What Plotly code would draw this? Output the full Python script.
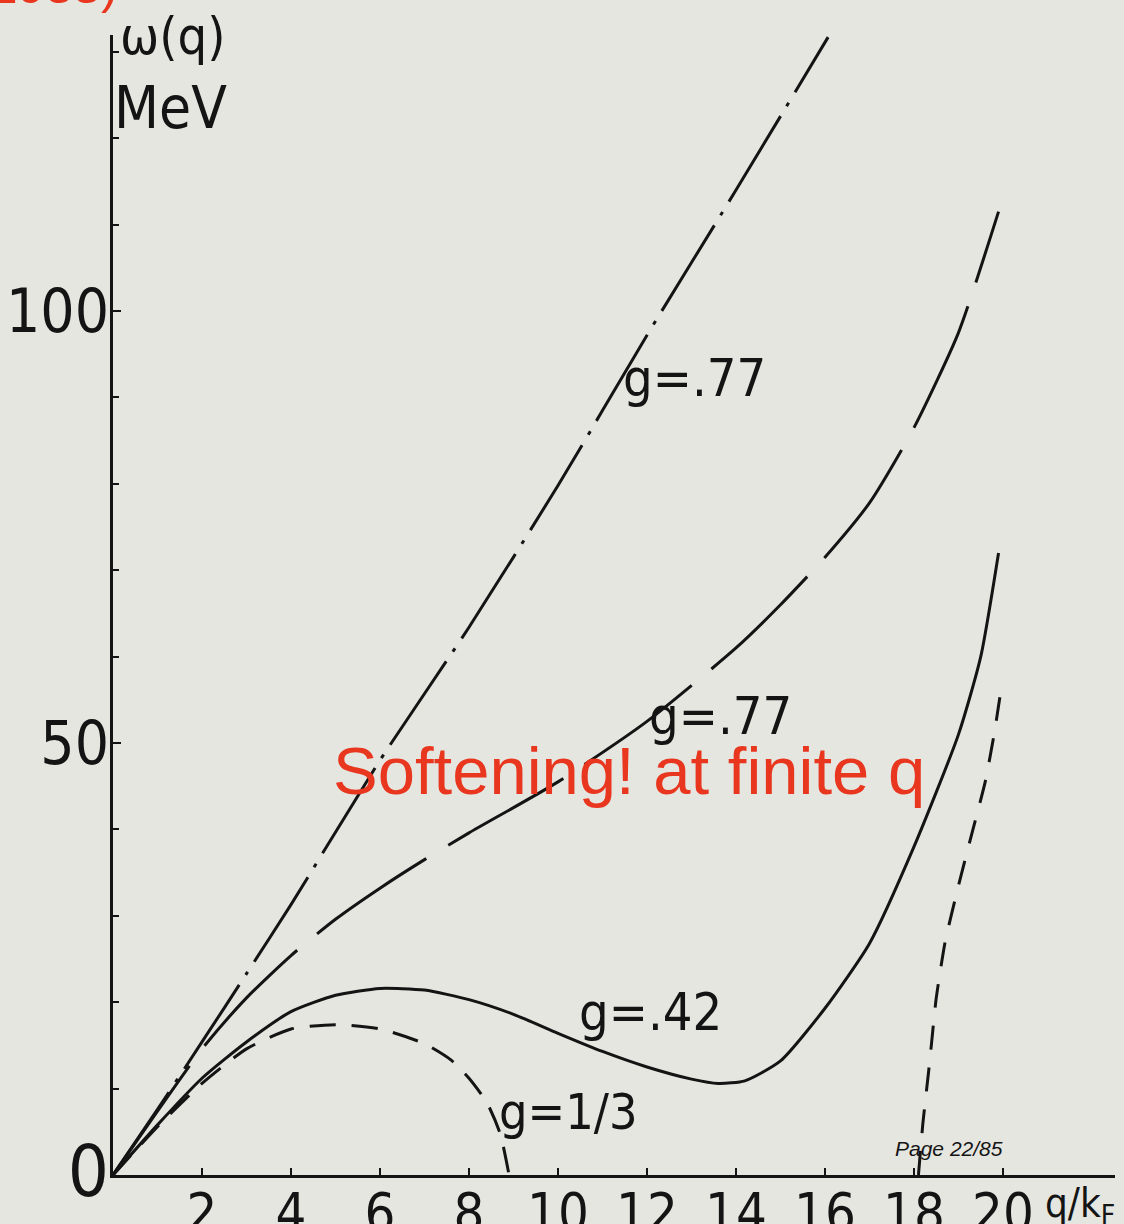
import math
import plotly.graph_objects as go

# ---- data (q/kF, omega in MeV) ----
q_dashdot = [0, 0.1, 0.2, 0.3, 0.4, 0.6, 0.8, 1.0, 1.2, 1.4, 1.607]
w_dashdot = [0, 7.6, 15.4, 23.3, 31.3, 48.0, 63.4, 79.8, 97.2, 114.0, 131.7]

q_longdash = [0, 0.1, 0.2, 0.3, 0.4, 0.5, 0.6, 0.7, 0.8, 1.0, 1.2, 1.4, 1.5, 1.6, 1.7, 1.8, 1.9, 1.99]
w_longdash = [0, 7.4, 14.6, 20.5, 25.4, 29.6, 33.2, 36.5, 39.6, 45.5, 52.5, 61.0, 66.0, 71.5, 77.8, 86.5, 97.5, 111.5]

q_solid = [0, 0.1, 0.2, 0.3, 0.4, 0.5, 0.6, 0.7, 0.8, 0.9, 1.0, 1.1, 1.2, 1.3, 1.36, 1.42, 1.5, 1.6, 1.7, 1.8, 1.9, 1.95, 1.99]
w_solid = [0, 5.8, 11.2, 15.4, 18.9, 20.8, 21.6, 21.4, 20.3, 18.6, 16.4, 14.3, 12.5, 11.1, 10.6, 10.9, 13.2, 19.3, 26.8, 38.0, 51.0, 60.0, 72.0]

q_third_a = [0, 0.1, 0.2, 0.3, 0.4, 0.5, 0.6, 0.7, 0.76, 0.8, 0.84, 0.87, 0.89]
w_third_a = [0, 5.6, 10.6, 14.6, 16.9, 17.4, 16.9, 15.2, 13.3, 11.2, 8.4, 4.8, 0]

q_third_b = [1.81, 1.82, 1.835, 1.85, 1.87, 1.9, 1.93, 1.96, 1.98, 1.995]
w_third_b = [0, 6, 13, 20.5, 27, 33.5, 39.5, 45.5, 51, 56]

x_tickvals = [0.2, 0.4, 0.6, 0.8, 1.0, 1.2, 1.4, 1.6, 1.8, 2.0]
x_ticktext = ["2", "4", "6", "8", "10", "12", "14", "16", "18", "20"]
y_tickvals = [0, 50, 100]
y_ticktext = ["<span style='font-size:72px'>0</span>", "50", "100"]

# ---- layout geometry (pixels) ----
W, H = 1124, 1224
L, R, T, B = 113, 9, 35, 49
PX_PER_Q = 445.0
PX_PER_MEV = 8.64
x_max = (W - L - R) / PX_PER_Q
y_max = (H - T - B) / PX_PER_MEV

INK = "#141414"
RED = "#e8361f"
BG = "#e6e6e1"
NARROW = "Liberation Sans Narrow, DejaVu Sans Condensed, Arial Narrow, sans-serif"


def px(xp, yp):
    return (xp - L) / (W - L - R), (H - B - yp) / (H - T - B)


def path_len(qs, ws):
    return sum(math.hypot((qs[i + 1] - qs[i]) * PX_PER_Q, (ws[i + 1] - ws[i]) * PX_PER_MEV)
               for i in range(len(qs) - 1))


def end_in_dash(qs, ws, period, frac_dash, end_frac=0.55):
    # choose a period close to the wanted one so the curve ends inside a dash
    total = path_len(qs, ws) * 1.01
    n = max(1, round(total / period - end_frac))
    p = total / (n + end_frac)
    d = p * frac_dash
    return f"{d:.1f}px,{p - d:.1f}px"


fig = go.Figure()

common = dict(mode="lines", line_shape="spline", hoverinfo="skip", showlegend=False)
fig.add_trace(go.Scatter(x=q_dashdot, y=w_dashdot,
                         line=dict(color=INK, width=3, dash="100px,12px,4px,12px", smoothing=0.6), **common))
fig.add_trace(go.Scatter(x=q_longdash, y=w_longdash,
                         line=dict(color=INK, width=3, dash=end_in_dash(q_longdash, w_longdash, 165, 0.84),
                                   smoothing=0.6), **common))
fig.add_trace(go.Scatter(x=q_solid, y=w_solid,
                         line=dict(color=INK, width=3, smoothing=0.6), **common))
fig.add_trace(go.Scatter(x=q_third_a, y=w_third_a,
                         line=dict(color=INK, width=3, dash="26px,16px", smoothing=0.6), **common))
fig.add_trace(go.Scatter(x=q_third_b, y=w_third_b,
                         line=dict(color=INK, width=3, dash="24px,18px", smoothing=0.5), **common))

annotations = []


def label(text, xp, yp, size, color=INK, family=NARROW, xanchor="center", yanchor="middle"):
    xx, yy = px(xp, yp)
    annotations.append(dict(text=text, x=xx, y=yy, xref="paper", yref="paper",
                            xanchor=xanchor, yanchor=yanchor, showarrow=False,
                            font=dict(family=family, size=size, color=color)))


label("g=.77", 694, 378, 52)
label("g=.77", 720, 716, 52)
label("g=.42", 650, 1012, 52)
label("g=1/3", 568, 1112, 50)
label("ω(q)", 172, 36, 52)
label("MeV", 170, 108, 58)
label("q/k<sub>F</sub>", 1080, 1206, 40)
label("Softening! at finite q", 629, 770, 67, color=RED, family="Liberation Sans, Arial, sans-serif")
label("<i>Page 22/85</i>", 949, 1148, 21, family="Liberation Sans, Arial, sans-serif")
label("(1988)", 120, -14, 50, color=RED, family="Liberation Sans, Arial, sans-serif", xanchor="right")

fig.update_layout(
    width=W, height=H,
    margin=dict(l=L, r=R, t=T, b=B, pad=0, autoexpand=False),
    paper_bgcolor=BG, plot_bgcolor=BG,
    annotations=annotations,
    xaxis=dict(range=[0, x_max], showgrid=False, zeroline=False, automargin=False,
               showline=True, linecolor=INK, linewidth=3,
               tickmode="array", tickvals=x_tickvals, ticktext=x_ticktext,
               ticks="inside", ticklen=7, tickwidth=2, tickcolor=INK,
               ticklabelstandoff=-12,
               tickfont=dict(family=NARROW, size=54, color=INK)),
    yaxis=dict(range=[0, y_max], showgrid=False, zeroline=False, automargin=False,
               showline=True, linecolor=INK, linewidth=3,
               tickmode="array", tickvals=y_tickvals, ticktext=y_ticktext,
               ticks="inside", ticklen=8, tickwidth=2, tickcolor=INK,
               ticklabelstandoff=-11,
               minor=dict(dtick=10, tick0=0, ticks="inside", ticklen=6, tickwidth=2, tickcolor=INK),
               tickfont=dict(family=NARROW, size=60, color=INK)),
)

fig.write_html("out.html")
